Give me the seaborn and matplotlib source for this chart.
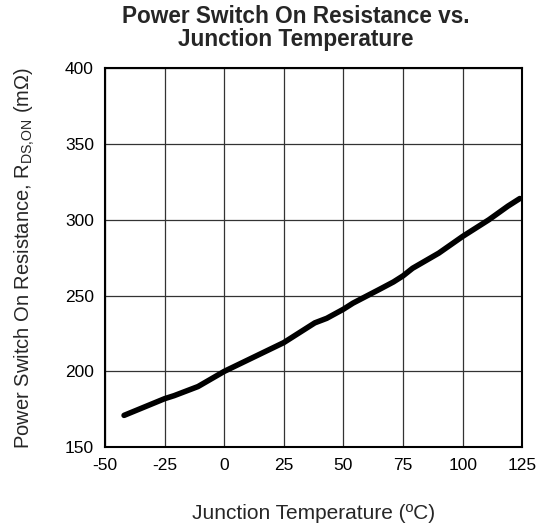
import matplotlib
matplotlib.use("Agg")
import matplotlib.pyplot as plt
import seaborn as sns
import pandas as pd

# Datos
temp_c = [-42, -25, -21, -11, 0, 25, 38, 43, 50, 54, 65, 71, 75, 79, 90, 100, 111, 119, 124]
r_mohm = [171, 182, 184, 190, 200, 219, 232, 235, 241, 245, 254, 259, 263, 268, 278, 289, 300, 309, 314]
x_ticks = [-50, -25, 0, 25, 50, 75, 100, 125]
y_ticks = [150, 200, 250, 300, 350, 400]

df = pd.DataFrame({"temp": temp_c, "res": r_mohm})

sns.set_style("white")
plt.rcParams["font.family"] = ["Liberation Sans", "DejaVu Sans"]
plt.rcParams["mathtext.default"] = "regular"
plt.rcParams["axes.unicode_minus"] = False

fig = plt.figure(figsize=(5.44, 5.28), dpi=100)
ax = fig.add_axes([0.193, 0.153, 0.767, 0.718])

sns.lineplot(data=df, x="temp", y="res", color="black", linewidth=4,
             solid_capstyle="round", ax=ax)

ax.set_xlim(-50, 125)
ax.set_ylim(150, 400)
ax.set_xticks(x_ticks)
ax.set_yticks(y_ticks)
ax.grid(True, color="#333333", linewidth=0.9)
for s in ax.spines.values():
    s.set_color("black")
    s.set_linewidth(1.5)
ax.tick_params(length=0, labelsize=12.5, colors="black", pad=8)

ax.set_xlabel("Junction Temperature (ºC)", fontsize=15, labelpad=22)
ax.set_ylabel("Power Switch On Resistance, R$_{DS{,}ON}$ (mΩ)", fontsize=14.5, labelpad=20)
ax.set_title("Power Switch On Resistance vs.\nJunction Temperature",
             fontsize=16.3, fontweight="bold", linespacing=1.0, pad=16, x=0.458)

fig.savefig("out.png", dpi=100)
